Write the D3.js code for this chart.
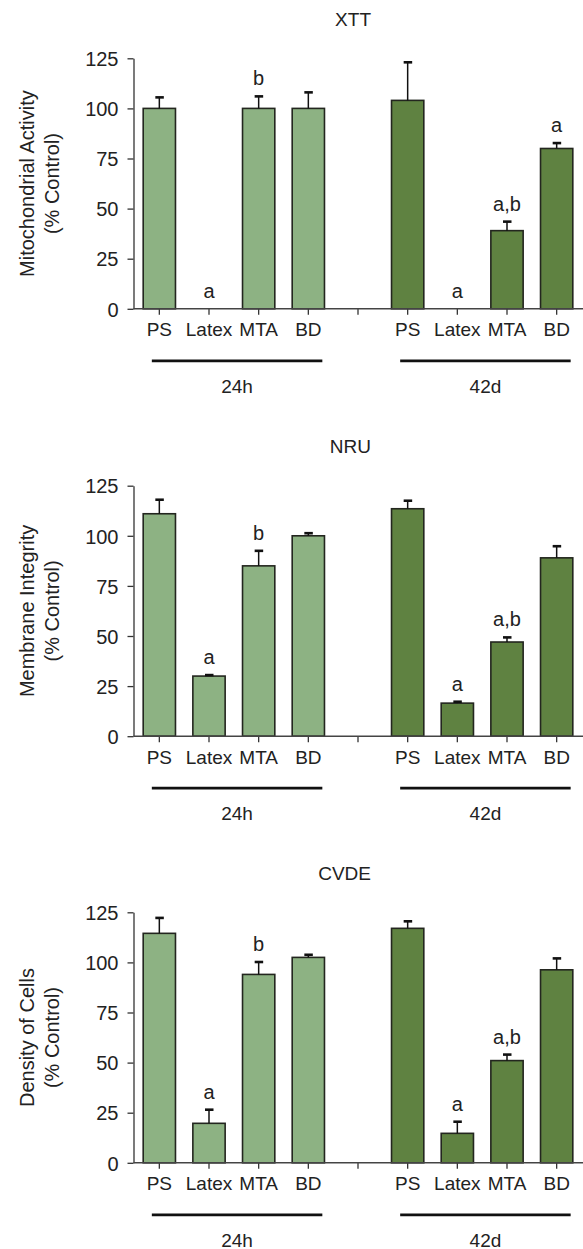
<!DOCTYPE html>
<html>
<head>
<meta charset="utf-8">
<script src="https://cdn.jsdelivr.net/npm/d3@7"></script>
<style>
    body { margin: 0; background: #fff; }
    svg text { font-family: "Liberation Sans", Arial, sans-serif; fill: #222; }
</style>
</head>
<body>
<div id="chart"></div>
<script>
// values (mean, error bar above the mean)
const categories = ['PS', 'Latex', 'MTA', 'BD'];
const groups = ['24h', '42d'];
const yTicks = [0, 25, 50, 75, 100, 125];
const panelTitles = ['XTT', 'NRU', 'CVDE'];
const yTitles = [
    ['Mitochondrial Activity', '(% Control)'],
    ['Membrane Integrity', '(% Control)'],
    ['Density of Cells', '(% Control)']
];

const xttMean = [100, 0, 100, 100, 104, 0, 39, 80];
const xttErr = [5.5, 0, 6, 8, 19, 0, 4.5, 2.7];
const xttLetters = ['', 'a', 'b', '', '', 'a', 'a,b', 'a'];

const nruMean = [111, 30, 85, 100, 113.5, 16.5, 47, 89];
const nruErr = [7, 0.5, 7.5, 1.3, 4, 0.7, 2.3, 5.8];
const nruLetters = ['', 'a', 'b', '', '', 'a', 'a,b', ''];

const cvdeMean = [114.5, 19.7, 94, 102.5, 117, 14.7, 51, 96.3];
const cvdeErr = [7.7, 6.8, 6.2, 1.3, 3.5, 5.8, 3, 5.7];
const cvdeLetters = ['', 'a', 'b', '', '', 'a', 'a,b', ''];

const means = [xttMean, nruMean, cvdeMean];
const errs = [xttErr, nruErr, cvdeErr];
const letters = [xttLetters, nruLetters, cvdeLetters];

const svgWidth = 583,
    svgHeight = 1249,
    axisX = 133.5,
    plotHeight = 250.5,
    panelTops = [58.3, 485.7, 912.3],
    colors = {'24h': '#8db283', '42d': '#5f8241'};

// 9 slots: 4 bars, an empty gap slot, 4 bars
const slots = [];
groups.forEach((g, gi) => {
    categories.forEach(c => slots.push({key: g + ' ' + c, group: g, cat: c}));
    if (gi === 0) slots.push({key: 'gap', group: null, cat: ''});
});
const barSlots = slots.filter(s => s.group);

const svg = d3.select('#chart')
    .append('svg')
    .attr('width', svgWidth)
    .attr('height', svgHeight);

const x = d3.scaleBand()
    .domain(slots.map(s => s.key))
    .range([134.5, 581.5])
    .paddingInner(0.35)
    .paddingOuter(0.175);

panelTops.forEach((top, p) => {
    const y = d3.scaleLinear().domain([0, 125]).range([top + plotHeight, top]);
    const g = svg.append('g');
    const base = y(0);

    // title
    g.append('text')
        .attr('x', 371)
        .attr('y', top - 32.7)
        .attr('text-anchor', 'end')
        .style('font-size', '19px')
        .text(panelTitles[p]);

    // y axis
    const yAxis = g.append('g')
        .attr('transform', `translate(${axisX},0)`)
        .call(d3.axisLeft(y).tickValues(yTicks).tickSize(6).tickSizeOuter(0).tickPadding(9));
    yAxis.selectAll('path, line').attr('stroke', '#333').attr('stroke-width', 1.3);
    yAxis.selectAll('text').style('font-size', '20px').attr('fill', '#222').attr('dy', '0.36em');

    // y title (two lines)
    const cy = y(62.5);
    yTitles[p].forEach((t, i) => {
        g.append('text')
            .attr('transform', `translate(${34 + i * 25},${cy}) rotate(-90)`)
            .attr('text-anchor', 'middle')
            .style('font-size', '20px')
            .text(t);
    });

    // bars
    const data = barSlots.map((s, i) => ({
        key: s.key, group: s.group, mean: means[p][i], err: errs[p][i], letter: letters[p][i]
    }));

    g.selectAll('.bar')
        .data(data.filter(d => d.mean > 0))
        .enter()
        .append('rect')
        .attr('class', 'bar')
        .attr('x', d => x(d.key))
        .attr('y', d => y(d.mean))
        .attr('width', x.bandwidth())
        .attr('height', d => base - y(d.mean))
        .attr('fill', d => colors[d.group])
        .attr('stroke', '#23261f')
        .attr('stroke-width', 1.6);

    // error bars
    const eb = g.selectAll('.err')
        .data(data.filter(d => d.mean > 0))
        .enter()
        .append('g')
        .attr('class', 'err');
    eb.append('line')
        .attr('x1', d => x(d.key) + x.bandwidth() / 2)
        .attr('x2', d => x(d.key) + x.bandwidth() / 2)
        .attr('y1', d => y(d.mean))
        .attr('y2', d => y(d.mean + d.err))
        .attr('stroke', '#111')
        .attr('stroke-width', 1.5);
    eb.append('line')
        .attr('x1', d => x(d.key) + x.bandwidth() / 2 - 4)
        .attr('x2', d => x(d.key) + x.bandwidth() / 2 + 4.5)
        .attr('y1', d => y(d.mean + d.err))
        .attr('y2', d => y(d.mean + d.err))
        .attr('stroke', '#111')
        .attr('stroke-width', 2.6);

    // significance letters
    g.selectAll('.letter')
        .data(data.filter(d => d.letter))
        .enter()
        .append('text')
        .attr('class', 'letter')
        .attr('x', d => x(d.key) + x.bandwidth() / 2)
        .attr('y', d => y(d.mean + d.err) - 11)
        .attr('text-anchor', 'middle')
        .style('font-size', '20px')
        .text(d => d.letter);

    // x axis
    const xAxis = g.append('g')
        .attr('transform', `translate(0,${base})`)
        .call(d3.axisBottom(x)
            .tickSize(6)
            .tickPadding(8)
            .tickFormat(k => (slots.find(s => s.key === k) || {}).cat));
    xAxis.select('.domain').remove();
    xAxis.selectAll('line').attr('stroke', '#333').attr('stroke-width', 1.3);
    xAxis.selectAll('text').style('font-size', '19px').attr('fill', '#222');
    g.append('line')
        .attr('x1', axisX)
        .attr('x2', svgWidth)
        .attr('y1', base)
        .attr('y2', base)
        .attr('stroke', '#444')
        .attr('stroke-width', 1.6);

    // group lines and labels
    groups.forEach(grp => {
        const keys = barSlots.filter(s => s.group === grp).map(s => s.key);
        const x0 = x(keys[0]) + x.bandwidth() / 2 - 7.5;
        const x1 = x(keys[keys.length - 1]) + x.bandwidth() / 2 + 14;
        g.append('line')
            .attr('x1', x0).attr('x2', x1)
            .attr('y1', base + 52).attr('y2', base + 52)
            .attr('stroke', '#111')
            .attr('stroke-width', 2.8);
        g.append('text')
            .attr('x', (x0 + x1) / 2)
            .attr('y', base + 83.7)
            .attr('text-anchor', 'middle')
            .style('font-size', '19px')
            .text(grp);
    });
});
</script>
</body>
</html>
